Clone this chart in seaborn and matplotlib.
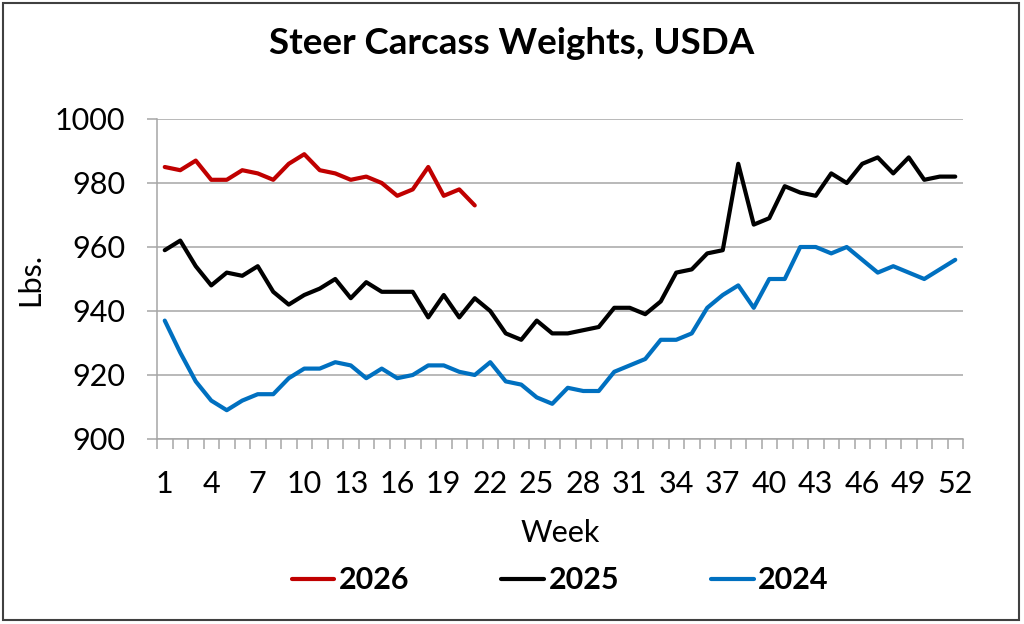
"""
Steer carcass weights by week, USDA (2024-2026)
"""
import matplotlib
matplotlib.use("Agg")
import matplotlib.pyplot as plt
from matplotlib.lines import Line2D
from matplotlib.patches import Rectangle
import numpy as np
import pandas as pd
import seaborn as sns

# weekly average steer carcass weights, lbs.
w2026 = [985, 984, 987, 981, 981, 984, 983, 981, 986, 989,
         984, 983, 981, 982, 980, 976, 978, 985, 976, 978,
         973]
w2025 = [959, 962, 954, 948, 952, 951, 954, 946, 942, 945,
         947, 950, 944, 949, 946, 946, 946, 938, 945, 938,
         944, 940, 933, 931, 937, 933, 933, 934, 935, 941,
         941, 939, 943, 952, 953, 958, 959, 986, 967, 969,
         979, 977, 976, 983, 980, 986, 988, 983, 988, 981,
         982, 982]
w2024 = [937, 927, 918, 912, 909, 912, 914, 914, 919, 922,
         922, 924, 923, 919, 922, 919, 920, 923, 923, 921,
         920, 924, 918, 917, 913, 911, 916, 915, 915, 921,
         923, 925, 931, 931, 933, 941, 945, 948, 941, 950,
         950, 960, 960, 958, 960, 956, 952, 954, 952, 950,
         953, 956]

years = ["2026", "2025", "2024"]
series = {"2026": w2026, "2025": w2025, "2024": w2024}
colors = {"2026": "#C00000", "2025": "#000000", "2024": "#0070C0"}

y_ticks = [900, 920, 940, 960, 980, 1000]
x_ticks = list(range(1, 53, 3))

frames = []
for yr in years:
    vals = series[yr]
    frames.append(pd.DataFrame({"Week": range(1, len(vals) + 1),
                                "Lbs": vals, "Year": yr}))
df = pd.concat(frames, ignore_index=True)

sns.set_style("white")
plt.rcParams['font.family'] = ['Lato', 'DejaVu Sans']
plt.rcParams['text.color'] = 'black'
plt.rcParams['axes.labelcolor'] = 'black'
plt.rcParams['xtick.color'] = 'black'
plt.rcParams['ytick.color'] = 'black'

grid_col = "#A6A6A6"

fig = plt.figure(figsize=(10.24, 6.24), dpi=100)
ax = fig.add_axes([157 / 1024, 1 - 439 / 624, 806 / 1024, 320 / 624])

sns.lineplot(data=df, x="Week", y="Lbs", hue="Year", hue_order=years,
             palette=colors, linewidth=3, legend=False, ax=ax)

ax.set_xlim(0.5, 52.5)
ax.set_ylim(900, 1000)
ax.set_yticks(y_ticks)
ax.set_xticks(x_ticks)
ax.set_xticks(np.arange(0.5, 53, 1), minor=True)
ax.yaxis.grid(True, color=grid_col, linewidth=1.1)
ax.xaxis.grid(False)

for side in ["top", "right"]:
    ax.spines[side].set_visible(False)
for side in ["left", "bottom"]:
    ax.spines[side].set_color(grid_col)
    ax.spines[side].set_linewidth(1.1)

ax.tick_params(axis="y", which="major", left=True, length=7, width=1.1,
               color=grid_col, pad=16, labelsize=22, labelcolor="black")
ax.tick_params(axis="x", which="major", bottom=True, length=0, pad=22,
               labelsize=22, labelcolor="black")
ax.tick_params(axis="x", which="minor", bottom=True, length=7, width=1.1,
               color=grid_col)

ax.set_xlabel("Week", fontsize=22, color="black")
ax.xaxis.set_label_coords(0.5, (439 - 542) / 320)
ax.xaxis.label.set_va("baseline")
ax.set_ylabel("Lbs.", fontsize=22, color="black")
ax.yaxis.set_label_coords((30 - 157) / 806, 0.5)
ax.yaxis.label.set_va("center")

fig.text(0.5, 1 - 54 / 624, "Steer Carcass Weights, USDA",
         ha="center", va="baseline", fontsize=26.5, fontweight="bold",
         color="black")

handles = [Line2D([], [], color=colors[yr], linewidth=3) for yr in years]
leg = fig.legend(handles, years, loc="center", bbox_to_anchor=(0.547, 0.07),
                 ncol=3, frameon=False, handlelength=1.4, handletextpad=0.15,
                 columnspacing=3.0, prop={"weight": "bold", "size": 22})
for t in leg.get_texts():
    t.set_color("black")

fig.patches.append(Rectangle((0.003, 0.007), 0.992, 0.988,
                             transform=fig.transFigure, fill=False,
                             edgecolor="#404040", linewidth=1.5))

fig.savefig("out.png", dpi=100)
